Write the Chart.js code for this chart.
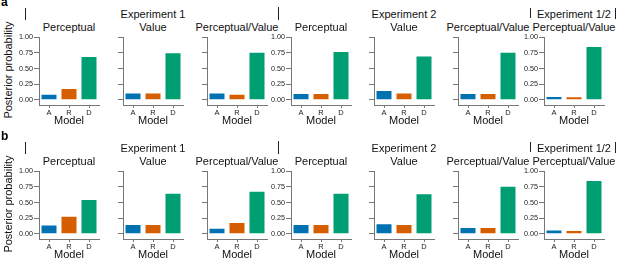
<!DOCTYPE html>
<html>
<head>
<meta charset="utf-8">
<script src="https://cdn.jsdelivr.net/npm/chart.js@4"></script>
<style>
  body { margin: 0; background: #fff; font-family: "Liberation Sans", Arial, sans-serif; }
  #wrap { position: relative; width: 617px; height: 261px; overflow: hidden; }
  #wrap canvas { position: absolute; }
  .t { position: absolute; font-size: 11px; line-height: 1; white-space: nowrap; color: #111; transform: translateX(-50%); }
  .lab { position: absolute; font-size: 12px; line-height: 1; font-weight: bold; color: #000; }
  .bar { position: absolute; width: 1.4px; background: #222; }
  .ylab { position: absolute; font-size: 11px; line-height: 1; white-space: nowrap; color: #111; transform: translate(-50%, -50%) rotate(-90deg); }
</style>
</head>
<body>
<div id="wrap"></div>
<script>
// categories and ticks
const models = ['A', 'R', 'D'];
const yTicks = [0, 0.25, 0.5, 0.75, 1];
const panelTitles = ['Perceptual', 'Value', 'Perceptual/Value', 'Perceptual', 'Value', 'Perceptual/Value', 'Perceptual/Value'];
const groupTitles = ['Experiment 1', 'Experiment 2', 'Experiment 1/2'];
const rowLabels = ['a', 'b'];

// posterior probability per panel (A, R, D)
const rowA = [
  [0.10, 0.19, 0.70],
  [0.12, 0.12, 0.76],
  [0.12, 0.10, 0.77],
  [0.11, 0.11, 0.78],
  [0.16, 0.12, 0.71],
  [0.11, 0.11, 0.77],
  [0.065, 0.06, 0.86]
];
const rowB = [
  [0.15, 0.29, 0.56],
  [0.16, 0.16, 0.66],
  [0.10, 0.19, 0.69],
  [0.16, 0.16, 0.66],
  [0.17, 0.16, 0.65],
  [0.11, 0.11, 0.77],
  [0.07, 0.065, 0.86]
];

const colors = ['#0072B2', '#D55E00', '#009E73'];
const axisColor = '#777';
const tickColor = '#222';
Chart.defaults.font.family = '"Liberation Sans", Arial, sans-serif';

// layout
const axisX = [39, 123, 207, 291, 374, 458, 544];
const withLabels = [true, false, false, true, false, false, true];
const groupCenter = [1, 4, 6];
const rowTop = [0, 134];
const plotW = 60;
const yW = 34;
const wrap = document.getElementById('wrap');

function addDiv(cls, text, left, top) {
  const d = document.createElement('div');
  d.className = cls;
  d.textContent = text;
  d.style.left = left + 'px';
  d.style.top = top + 'px';
  wrap.appendChild(d);
  return d;
}

[rowA, rowB].forEach((rowData, r) => {
  const off = rowTop[r];
  addDiv('lab', rowLabels[r], 1, off - 4);
  addDiv('ylab', 'Posterior probability', 8, off + 70);

  // small vertical markers beside the group headings
  [[25, 8, 20], [278, 7, 20], [530, 8, 18], [615, 8, 19]].forEach(m => {
    const b = addDiv('bar', '', m[0], off + m[1]);
    b.style.height = (m[2] - m[1]) + 'px';
  });

  groupTitles.forEach((g, i) => {
    addDiv('t', g, axisX[groupCenter[i]] + plotW / 2, off + 9);
  });

  rowData.forEach((vals, p) => {
    addDiv('t', panelTitles[p], axisX[p] + plotW / 2, off + 22);

    const canvas = document.createElement('canvas');
    canvas.width = yW + plotW + 2;
    canvas.height = 100;
    canvas.style.left = (axisX[p] - yW) + 'px';
    canvas.style.top = (off + 32) + 'px';
    wrap.appendChild(canvas);

    new Chart(canvas.getContext('2d'), {
      type: 'bar',
      data: {
        labels: models,
        datasets: [{
          data: vals,
          backgroundColor: colors,
          borderColor: 'rgba(255,255,255,0.45)',
          borderWidth: 1,
          categoryPercentage: 0.85,
          barPercentage: 1
        }]
      },
      options: {
        responsive: false,
        animation: false,
        layout: { padding: { top: 5, right: 2, left: 0, bottom: 0 } },
        plugins: { legend: { display: false }, tooltip: { enabled: false } },
        scales: {
          x: {
            offset: true,
            grid: { display: true, drawOnChartArea: false, drawTicks: true, tickLength: 3, offset: false, color: axisColor },
            border: { display: true, color: axisColor, width: 1 },
            ticks: { padding: 0, color: tickColor, font: { size: 7.5 } },
            title: { display: true, text: 'Model', color: '#111', font: { size: 11 }, padding: { top: 0, bottom: 4 } },
            afterFit: s => { s.height = 27; }
          },
          y: {
            min: -0.08,
            max: 1,
            afterBuildTicks: s => { s.ticks = yTicks.map(v => ({ value: v })); },
            grid: { display: true, drawOnChartArea: false, drawTicks: true, tickLength: 5, color: axisColor },
            border: { display: true, color: axisColor, width: 1 },
            ticks: {
              padding: 1,
              color: withLabels[p] ? tickColor : 'rgba(0,0,0,0)',
              font: { size: 7.2 },
              callback: v => v.toFixed(2)
            },
            afterFit: s => { s.width = yW; }
          }
        }
      }
    });
  });
});
</script>
</body>
</html>
